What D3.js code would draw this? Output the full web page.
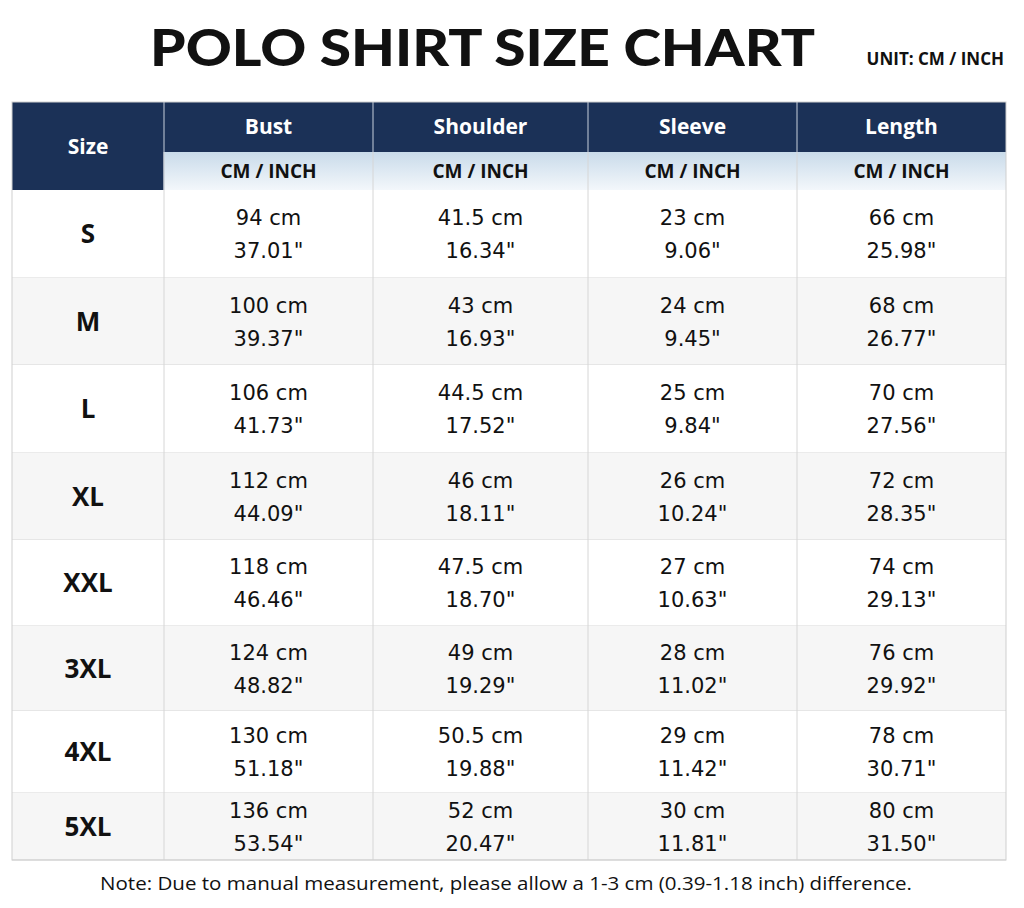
<!DOCTYPE html>
<html><head><meta charset="utf-8">
<script src="https://cdn.jsdelivr.net/npm/d3@7"></script>
<style>body{margin:0;background:#fff}</style>
</head><body><svg width="1024" height="908"></svg>
<script>
const sizes = ["S","M","L","XL","XXL","3XL","4XL","5XL"];
const measures = ["Bust","Shoulder","Sleeve","Length"];
const cm = {
  Bust: [94,100,106,112,118,124,130,136],
  Shoulder: [41.5,43,44.5,46,47.5,49,50.5,52],
  Sleeve: [23,24,25,26,27,28,29,30],
  Length: [66,68,70,72,74,76,78,80]
};
const inch = {
  Bust: ["37.01","39.37","41.73","44.09","46.46","48.82","51.18","53.54"],
  Shoulder: ["16.34","16.93","17.52","18.11","18.70","19.29","19.88","20.47"],
  Sleeve: ["9.06","9.45","9.84","10.24","10.63","11.02","11.42","11.81"],
  Length: ["25.98","26.77","27.56","28.35","29.13","29.92","30.71","31.50"]
};
// layout
const colEdges = [12,164,373,588,797,1006];
const rowEdges = [190,278,365,453,540,626,711,793,860];
const navy = "#1b3157", font = "'Open Sans', sans-serif", numFont = "'DejaVu Sans', sans-serif";
const svg = d3.select("svg");

const defs = svg.append("defs");
const g = defs.append("linearGradient").attr("id","sub").attr("x1",0).attr("y1",0).attr("x2",0).attr("y2",1);
g.append("stop").attr("offset","0%").attr("stop-color","#c9dbea");
g.append("stop").attr("offset","100%").attr("stop-color","#f3f7fb");

svg.append("text").attr("x",150).attr("y",66)
  .attr("textLength",665).attr("lengthAdjust","spacingAndGlyphs")
  .attr("font-family","Lato, sans-serif").attr("font-weight",900).attr("font-size",52)
  .attr("fill","#111").text("POLO SHIRT SIZE CHART");
svg.append("text").attr("x",1004).attr("y",65).attr("text-anchor","end")
  .attr("font-family",font).attr("font-weight",700).attr("font-size",17)
  .attr("fill","#111").text("UNIT: CM / INCH");

// header
svg.append("rect").attr("x",12).attr("y",102).attr("width",994).attr("height",88).attr("fill",navy);
const mx = (i) => [colEdges[i+1], colEdges[i+2]];
measures.forEach((m,i) => {
  const [x0,x1] = mx(i);
  svg.append("rect").attr("x",x0).attr("y",152).attr("width",x1-x0).attr("height",38).attr("fill","url(#sub)");
  svg.append("text").attr("x",(x0+x1)/2).attr("y",134).attr("text-anchor","middle")
    .attr("font-family",font).attr("font-weight",700).attr("font-size",21).attr("fill","#fff").text(m);
  svg.append("text").attr("x",(x0+x1)/2).attr("y",178).attr("text-anchor","middle")
    .attr("font-family",font).attr("font-weight",700).attr("font-size",19).attr("fill","#111").text("CM / INCH");
  if (i>0) svg.append("line").attr("x1",x0).attr("x2",x0).attr("y1",102).attr("y2",152).attr("stroke","#c8d0dc").attr("stroke-width",1);
});
svg.append("text").attr("x",88).attr("y",154).attr("text-anchor","middle")
  .attr("font-family",font).attr("font-weight",700).attr("font-size",21).attr("fill","#fff").text("Size");

// body rows
sizes.forEach((s,r) => {
  const y0 = rowEdges[r], y1 = rowEdges[r+1], cy = (y0+y1)/2;
  svg.append("rect").attr("x",12).attr("y",y0).attr("width",994).attr("height",y1-y0)
    .attr("fill", r%2 ? "#f6f6f6" : "#fff");
  svg.append("text").attr("x",88).attr("y",cy+9).attr("text-anchor","middle")
    .attr("font-family",font).attr("font-weight",700).attr("font-size",26).attr("fill","#111").text(s);
  measures.forEach((m,i) => {
    const [x0,x1] = mx(i), x = (x0+x1)/2;
    const t = svg.append("text").attr("x",x).attr("text-anchor","middle")
      .attr("font-family",numFont).attr("font-size",21).attr("fill","#111");
    t.append("tspan").attr("x",x).attr("y",cy-9).text(cm[m][r]+" cm");
    t.append("tspan").attr("x",x).attr("y",cy+24).text(inch[m][r]+"\"");
  });
  svg.append("line").attr("x1",12).attr("x2",1006).attr("y1",y1).attr("y2",y1).attr("stroke","#d6d6d6");
});
colEdges.slice(1,-1).forEach(x => svg.append("line").attr("x1",x).attr("x2",x).attr("y1",152).attr("y2",860).attr("stroke","#d6d6d6"));
svg.append("rect").attr("x",12).attr("y",102).attr("width",994).attr("height",758).attr("fill","none").attr("stroke","#cfcfcf");
svg.append("line").attr("x1",164).attr("x2",164).attr("y1",102).attr("y2",190).attr("stroke","#c8d0dc");

svg.append("text").attr("x",100).attr("y",890)
  .attr("textLength",812).attr("lengthAdjust","spacingAndGlyphs")
  .attr("font-family",font).attr("font-size",18).attr("fill","#111")
  .text("Note: Due to manual measurement, please allow a 1-3 cm (0.39-1.18 inch) difference.");
</script></body></html>
